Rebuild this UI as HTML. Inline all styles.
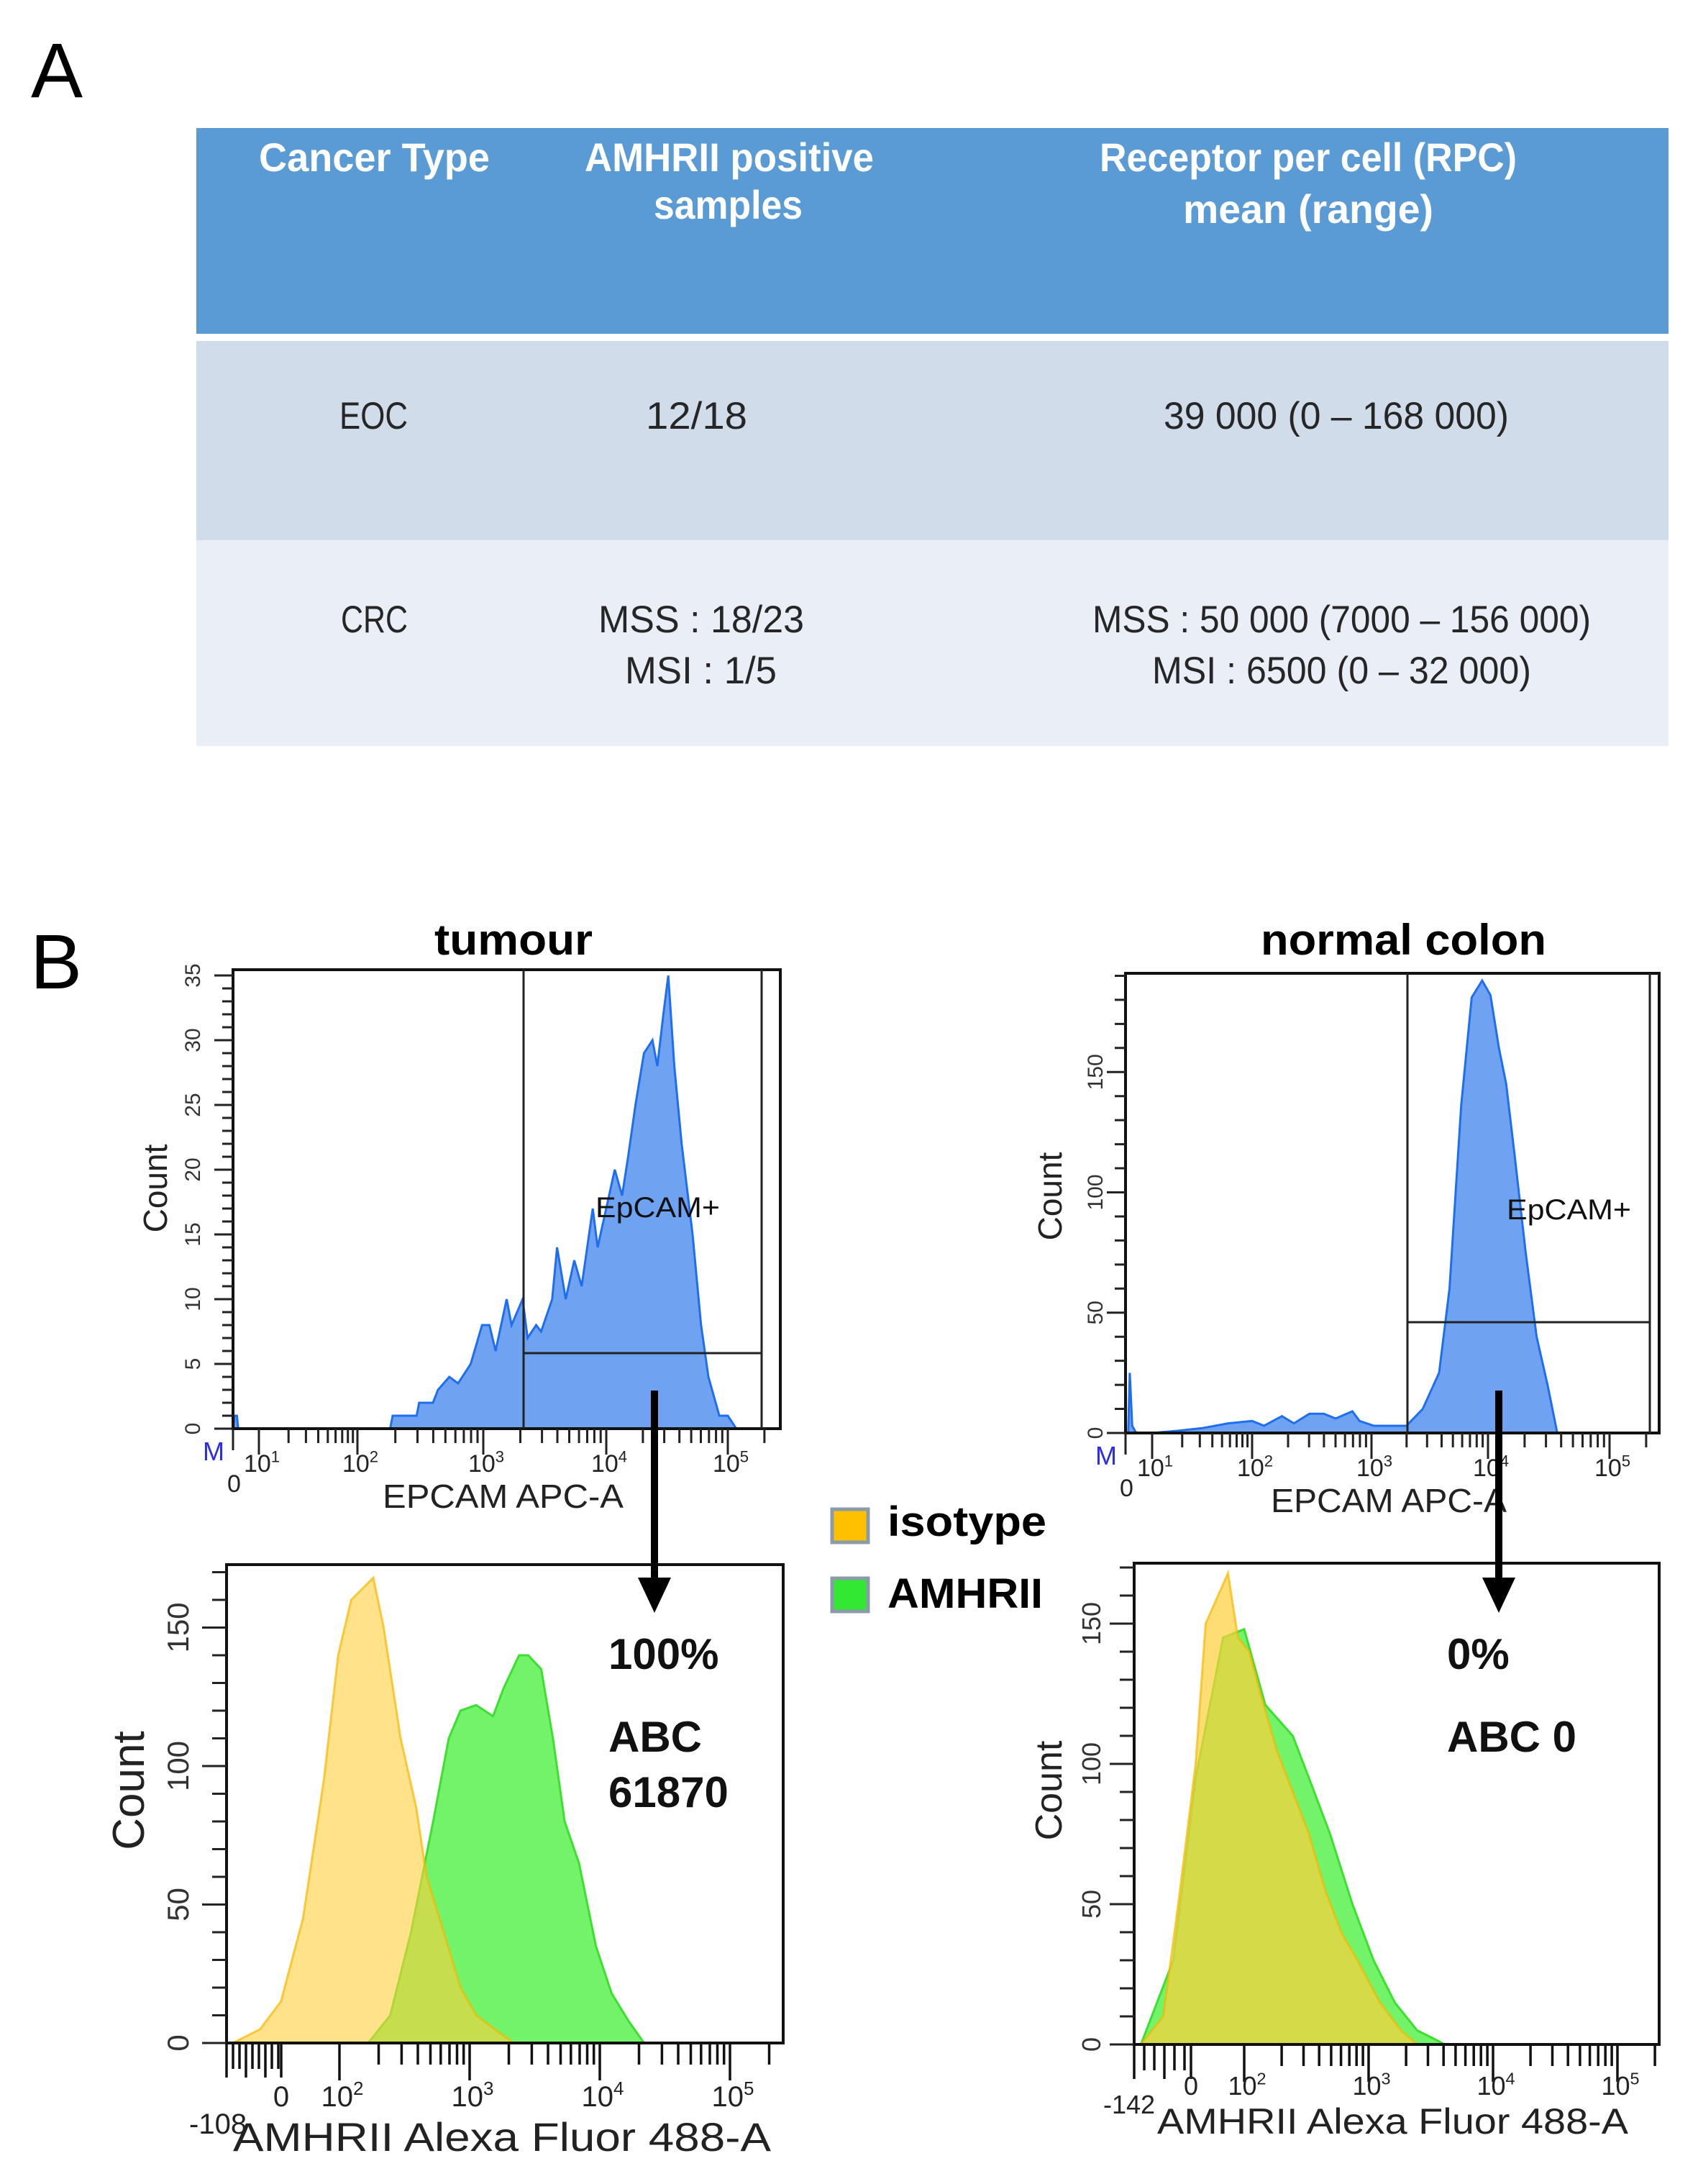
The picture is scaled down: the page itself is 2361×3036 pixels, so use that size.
<!DOCTYPE html>
<html><head><meta charset="utf-8"><style>
html,body{margin:0;padding:0;background:#fff;}
svg{display:block;font-family:"Liberation Sans",sans-serif;}
</style></head><body>
<svg id="fig" width="2361" height="3036" viewBox="0 0 2361 3036" xmlns="http://www.w3.org/2000/svg">
<rect x="0" y="0" width="2361" height="3036" fill="#fff"/>
<text x="43" y="135" font-size="108" fill="#000">A</text>
<g>
<rect x="273" y="178" width="2047" height="286" fill="#5b9bd5"/>
<rect x="273" y="474" width="2047" height="277" fill="#d0dcea"/>
<rect x="273" y="751" width="2047" height="286" fill="#e9eef7"/>
<g font-weight="bold" fill="#fff" font-size="56">
<text x="360" y="238" textLength="321" lengthAdjust="spacingAndGlyphs">Cancer  Type</text>
<text x="813" y="238" textLength="402" lengthAdjust="spacingAndGlyphs">AMHRII positive</text>
<text x="909" y="304" textLength="207" lengthAdjust="spacingAndGlyphs">samples</text>
<text x="1529" y="238" textLength="580" lengthAdjust="spacingAndGlyphs">Receptor per cell  (RPC)</text>
<text x="1645" y="310" textLength="348" lengthAdjust="spacingAndGlyphs">mean  (range)</text>
</g>
<g fill="#262626" font-size="53">
<text x="472" y="596" textLength="95" lengthAdjust="spacingAndGlyphs">EOC</text>
<text x="898" y="596" textLength="141" lengthAdjust="spacingAndGlyphs">12/18</text>
<text x="1618" y="596" textLength="480" lengthAdjust="spacingAndGlyphs">39 000  (0 – 168 000)</text>
<text x="474" y="879" textLength="93" lengthAdjust="spacingAndGlyphs">CRC</text>
<text x="832" y="879" textLength="286" lengthAdjust="spacingAndGlyphs">MSS : 18/23</text>
<text x="869" y="950" textLength="211" lengthAdjust="spacingAndGlyphs">MSI : 1/5</text>
<text x="1519" y="879" textLength="693" lengthAdjust="spacingAndGlyphs">MSS : 50 000 (7000 – 156 000)</text>
<text x="1602" y="950" textLength="527" lengthAdjust="spacingAndGlyphs">MSI : 6500 (0 – 32 000)</text>
</g>
</g>
<text x="42" y="1374" font-size="108" fill="#000">B</text>
<text x="604" y="1327" font-size="60" font-weight="bold" textLength="220" lengthAdjust="spacingAndGlyphs">tumour</text>
<text x="1753" y="1327" font-size="60" font-weight="bold" textLength="397" lengthAdjust="spacingAndGlyphs">normal colon</text>
<g>
<rect x="1157" y="2098" width="50" height="46" fill="#ffc000" stroke="#8a9aa8" stroke-width="5"/>
<text x="1234" y="2135" font-size="58" font-weight="bold" textLength="221" lengthAdjust="spacingAndGlyphs">isotype</text>
<rect x="1157" y="2194" width="50" height="46" fill="#33e833" stroke="#8a9aa8" stroke-width="5"/>
<text x="1234" y="2235" font-size="58" font-weight="bold" textLength="216" lengthAdjust="spacingAndGlyphs">AMHRII</text>
</g>
</svg>
<script>
// ---------- DATA ----------
const tumourEpcamLog = [0.02,0.05,0.15,0.2,2.26,2.28,2.47,2.49,2.6,2.64,2.73,2.8,2.9,2.99,3.05,3.1,3.19,3.23,3.32,3.36,3.43,3.47,3.56,3.6,3.67,3.74,3.8,3.89,3.93,4.07,4.13,4.18,4.24,4.31,4.38,4.42,4.47,4.51,4.56,4.62,4.71,4.78,4.84,4.93,5.0,5.07];
const tumourEpcamCount = [0,1,1,0,0,1,1,2,2,3,4,3.5,5,8,8,6,10,8,10,7,8,7.5,10,14,10,13,11,17,14,20,18,21,25,29,30,28,32,35,28,22,15,8,4,1,1,0];
const colonEpcamLog = [0.1,0.16,0.25,0.4,1.0,1.27,1.5,1.76,2.0,2.1,2.25,2.35,2.48,2.6,2.7,2.84,2.9,3.02,3.3,3.44,3.58,3.67,3.77,3.86,3.95,4.02,4.09,4.15,4.22,4.31,4.4,4.49,4.57];
const colonEpcamCount = [0,25,3,0,0,1,2,4,5,3,7,4,8,8,6,9,5,3,3,10,25,60,136,181,188,182,160,145,115,75,40,20,0];
const tumourIsoLog = [1.18,1.39,1.55,1.72,1.88,1.99,2.09,2.26,2.34,2.47,2.59,2.67,2.8,2.93,3.05,3.22,3.34];
const tumourIsoCount = [0,5,15,45,95,140,160,168,150,110,85,60,40,20,10,4,0];
const tumourAmhLog = [2.22,2.39,2.55,2.72,2.84,2.93,3.05,3.18,3.26,3.38,3.45,3.55,3.64,3.73,3.84,3.97,4.09,4.22,4.34];
const tumourAmhCount = [0,10,40,80,110,120,122,118,128,140,140,135,110,80,65,35,18,8,0];
const colonIsoLog = [1.17,1.35,1.47,1.61,1.69,1.87,1.95,2.04,2.13,2.26,2.39,2.52,2.65,2.78,2.91,3.09,3.26,3.39];
const colonIsoCount = [0,10,50,100,150,168,145,140,125,105,90,75,55,40,30,15,5,0];
const colonAmhLog = [1.17,1.43,1.61,1.83,2.0,2.17,2.39,2.52,2.69,2.87,3.04,3.21,3.39,3.57,3.61];
const colonAmhCount = [0,30,95,145,148,121,110,95,75,50,30,15,5,1,0];
const epcamTickLabels = ['0','1','2','3','4','5'];
const amhTickExps = ['2','3','4','5'];
const tumourStats = ['100%','ABC','61870'];
const colonStats = ['0%','ABC 0'];

// ---------- HELPERS ----------
const NS='http://www.w3.org/2000/svg';
const svg=document.getElementById('fig');
function mk(tag,attrs,parent){const e=document.createElementNS(NS,tag);for(const k in attrs)e.setAttribute(k,attrs[k]);(parent||svg).appendChild(e);return e;}
function pw(us,px){return function(u){let i=0;if(u<=us[0])i=0;else if(u>=us[us.length-1])i=us.length-2;else{while(u>us[i+1])i++;}return px[i]+(u-us[i])*(px[i+1]-px[i])/(us[i+1]-us[i]);};}
function linY(y0,k){return function(c){return y0-c*k;};}
function histPath(xs,ys,X,Y){let d='M'+X(xs[0]).toFixed(1)+','+Y(0).toFixed(1);for(let i=0;i<xs.length;i++){d+=' L'+X(xs[i]).toFixed(1)+','+Y(ys[i]).toFixed(1);}d+=' L'+X(xs[xs.length-1]).toFixed(1)+','+Y(0).toFixed(1)+' Z';return d;}
function decadeLabel(g,x,y,exp,fs){const t=mk('text',{x:x,y:y,'font-size':fs,'text-anchor':'middle',fill:'#222'},g);t.textContent='10';const s=mk('tspan',{dy:-fs*0.4,'font-size':fs*0.65},t);s.textContent=exp;return t;}

// ---------- EPCAM PLOTS ----------
function epcamPlot(cfg){
  const g=mk('g',{});
  
  
  const X=pw([0,1,2,3,4,5,6],cfg.xpx);
  const Y=linY(cfg.y0,cfg.k);
  const hist=mk('path',{d:histPath(cfg.xs,cfg.ys,X,Y),fill:'#6fa3f2',stroke:'#1f6ef0','stroke-width':3},g);
  
  
  const fr=mk('rect',{x:cfg.L,y:cfg.T,width:cfg.R-cfg.L,height:cfg.y0-cfg.T,fill:'none',stroke:'#111','stroke-width':4},g);
  
  
  const gl=mk('path',{d:'M'+cfg.gx+','+cfg.T+' V'+cfg.y0+' M'+cfg.gx+','+cfg.gy+' H'+cfg.ir+' M'+cfg.ir+','+cfg.T+' V'+cfg.y0,stroke:'#222','stroke-width':3,fill:'none'},g);
  
  
  const gt=mk('text',{x:cfg.gtx,y:cfg.gty,'font-size':40,fill:'#111',textLength:173,lengthAdjust:'spacingAndGlyphs'},g);
  gt.textContent='EpCAM+';
  
  
  let d='';
  for(let c=0;c<=cfg.ymax;c+=cfg.ystep){const y=Y(c);const len=(c%cfg.ymaj===0)?26:15;d+='M'+(cfg.L-len)+','+y+' H'+cfg.L+' ';}
  const yt=mk('path',{d:d,stroke:'#222','stroke-width':3},g);
  
  
  for(let c=0;c<=cfg.ymax;c+=cfg.ymaj){
    const y=Y(c);
    const t=mk('text',{x:0,y:0,'font-size':cfg.yfs,'text-anchor':'middle',fill:'#333',transform:'translate('+cfg.ylx+','+y+') rotate(-90)'},g);
    t.textContent=String(c);
    
    
  }
  const yl=mk('text',{x:0,y:0,'font-size':46,'text-anchor':'middle',fill:'#222',transform:'translate('+cfg.ctx+','+cfg.cty+') rotate(-90)'},g);
  yl.textContent='Count';
  
  
  d='M'+X(0)+','+cfg.y0+' v30 ';
  for(let e=1;e<=5;e++){d+='M'+X(e).toFixed(1)+','+cfg.y0+' v36 ';for(let m=2;m<=9;m++){const u=e+Math.log10(m);if(u<=5.35){d+='M'+X(u).toFixed(1)+','+cfg.y0+' v20 ';}}}
  const xt=mk('path',{d:d,stroke:'#222','stroke-width':3},g);
  
  
  for(let i=1;i<epcamTickLabels.length;i++){
    const t=decadeLabel(g,X(i)+4,cfg.y0+60,epcamTickLabels[i],34);
    
    
  }
  const z=mk('text',{x:X(0)-8,y:cfg.y0+88,'font-size':34,fill:'#222'},g);
  z.textContent=epcamTickLabels[0];
  
  
  const m=mk('text',{x:X(0)-42,y:cfg.y0+44,'font-size':36,fill:'#2a2af0'},g);
  m.textContent='M';
  
  
  const xl=mk('text',{x:cfg.xtx,y:cfg.y0+110,'font-size':46,fill:'#222',textLength:cfg.xtw,lengthAdjust:'spacingAndGlyphs'},g);
  xl.textContent='EPCAM APC-A';
  
  
}
epcamPlot({name:'tumour-epcam-histogram',xs:tumourEpcamLog,ys:tumourEpcamCount,xpx:[324,360,497,672,843,1012,1181],y0:1986,k:18,L:324,R:1085,T:1348,gx:728,gy:1881,ir:1059,gtx:828,gty:1692,ymax:35,ystep:1,ymaj:5,yfs:30,ylx:278,ctx:232,cty:1652,xtx:532,xtw:335});
epcamPlot({name:'colon-epcam-histogram',xs:colonEpcamLog,ys:colonEpcamCount,xpx:[1565,1602,1741,1907,2069,2238,2407],y0:1992,k:3.345,L:1565,R:2307,T:1353,gx:1957,gy:1838,ir:2294,gtx:2095,gty:1695,ymax:190,ystep:10,ymaj:50,yfs:30,ylx:1533,ctx:1476,cty:1663,xtx:1767,xtw:328});

// ---------- AMHRII PLOTS ----------
function amhPlot(cfg){
  const g=mk('g',{});
  
  
  const X=function(u){return cfg.x2+(u-2)*cfg.dec;};
  const Y=linY(cfg.y0,cfg.k);
  const gr=mk('path',{d:histPath(cfg.gx,cfg.gy,X,Y),fill:'#72f36a',stroke:'#3de030','stroke-width':3},g);
  
  
  const or=mk('path',{d:histPath(cfg.ox,cfg.oy,X,Y),fill:'#ffcf3a','fill-opacity':cfg.op,stroke:'#f5b800','stroke-opacity':0.7,'stroke-width':3},g);
  
  
  const fr=mk('rect',{x:cfg.L,y:cfg.T,width:cfg.R-cfg.L,height:cfg.y0-cfg.T,fill:'none',stroke:'#111','stroke-width':4},g);
  
  
  let d='';
  for(let c=0;c<=170;c+=10){const y=Y(c);const len=(c%50===0)?34:20;d+='M'+(cfg.L-len)+','+y+' H'+cfg.L+' ';}
  const yt=mk('path',{d:d,stroke:'#222','stroke-width':3},g);
  
  
  for(let c=0;c<=150;c+=50){
    const t=mk('text',{x:0,y:0,'font-size':cfg.yfs,'text-anchor':'middle',fill:'#333',transform:'translate('+cfg.ylx+','+Y(c)+') rotate(-90)'},g);
    t.textContent=String(c);
    
    
  }
  const yl=mk('text',{x:0,y:0,'font-size':cfg.cfs,'text-anchor':'middle',fill:'#222',transform:'translate('+cfg.ctx+','+cfg.cty+') rotate(-90)'},g);
  yl.textContent='Count';
  
  
  d='';
  for(let x=cfg.L;x<cfg.zx;x+=cfg.dense){d+='M'+x+','+cfg.y0+' v'+(Math.round((x-cfg.L)/cfg.dense)%3===0?48:36)+' ';}
  d+='M'+cfg.zx+','+cfg.y0+' v48 ';
  for(let e=2;e<=5;e++){d+='M'+X(e).toFixed(1)+','+cfg.y0+' v52 ';for(let m=2;m<=9;m++){const u=e+Math.log10(m);if(u<=5.35){d+='M'+X(u).toFixed(1)+','+cfg.y0+' v30 ';}}}
  const xt=mk('path',{d:d,stroke:'#111','stroke-width':3.5},g);
  
  
  for(let i=0;i<amhTickExps.length;i++){
    const t=decadeLabel(g,X(i+2)+4,cfg.tly,amhTickExps[i],cfg.tfs);
    
    
  }
  const z=mk('text',{x:cfg.zx,y:cfg.tly,'font-size':cfg.tfs,'text-anchor':'middle',fill:'#222'},g);
  z.textContent='0';
  
  
  const mn=mk('text',{x:cfg.mnx,y:cfg.mny,'font-size':cfg.tfs,fill:'#222'},g);
  mn.textContent=cfg.minLabel;
  
  
  const xl=mk('text',{x:cfg.xtx,y:cfg.xty,'font-size':cfg.xfs,fill:'#222',textLength:cfg.xtw,lengthAdjust:'spacingAndGlyphs'},g);
  xl.textContent='AMHRII Alexa Fluor 488-A';
  
  
  for(let i=0;i<cfg.stats.length;i++){
    const t=mk('text',{x:cfg.sx,y:cfg.sy[i],'font-size':60,'font-weight':'bold',fill:'#111'},g);
    t.textContent=cfg.stats[i];
    
    
  }
}
amhPlot({name:'tumour-amhrii-histogram',ox:tumourIsoLog,oy:tumourIsoCount,gx:tumourAmhLog,gy:tumourAmhCount,op:0.6,x2:472,dec:181,y0:2840,k:3.85,L:315,R:1089,T:2175,yfs:42,ylx:262,cfs:62,ctx:200,cty:2489,zx:391,dense:9,tly:2928,tfs:40,minLabel:'-108',mnx:263,mny:2966,xtx:324,xty:2990,xfs:56,xtw:748,stats:tumourStats,sx:846,sy:[2320,2435,2512]});
amhPlot({name:'colon-amhrii-histogram',ox:colonIsoLog,oy:colonIsoCount,gx:colonAmhLog,gy:colonAmhCount,op:0.7,x2:1730,dec:173,y0:2842,k:3.9,L:1577,R:2307,T:2173,yfs:36,ylx:1530,cfs:52,ctx:1476,cty:2489,zx:1656,dense:14,tly:2912,tfs:36,minLabel:'-142',mnx:1534,mny:2938,xtx:1609,xty:2966,xfs:50,xtw:655,stats:colonStats,sx:2012,sy:[2320,2435]});

// ---------- ARROWS ----------
const a1=mk('path',{d:'M910,1933 V2205',stroke:'#000','stroke-width':10});


const h1=mk('polygon',{points:'887,2193 933,2193 910,2242',fill:'#000'});


const a2=mk('path',{d:'M2084,1933 V2205',stroke:'#000','stroke-width':10});


const h2=mk('polygon',{points:'2061,2193 2107,2193 2084,2242',fill:'#000'});


</script>
</body></html>
